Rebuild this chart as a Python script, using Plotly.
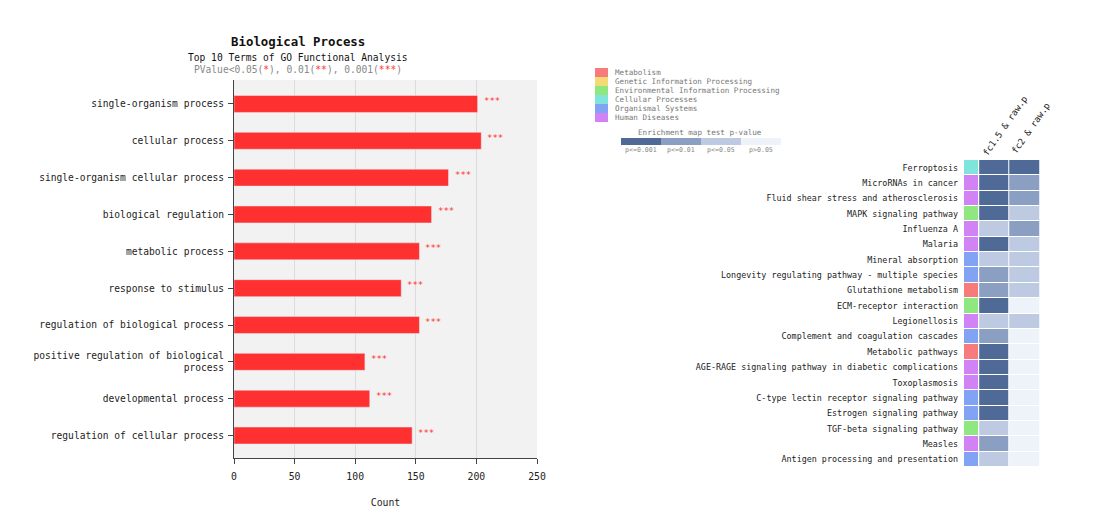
import plotly.graph_objects as go

# page body has an 8px margin, so the figure is drawn 8px smaller and offset
W, H = 1109, 518
OFF = 8
FW, FH = W - OFF, H - OFF

# ---- bar chart data (GO BP top 10) ----
go_terms = ["single-organism process", "cellular process", "single-organism cellular process",
            "biological regulation", "metabolic process", "response to stimulus",
            "regulation of biological process", "positive regulation of biological<br>process",
            "developmental process", "regulation of cellular process"]
go_counts = [201, 204, 177, 163, 153, 138, 153, 108, 112, 147]
go_stars = ["***"] * 10

# ---- KEGG enrichment heatmap data ----
pathways = ["Ferroptosis", "MicroRNAs in cancer", "Fluid shear stress and atherosclerosis",
            "MAPK signaling pathway", "Influenza A", "Malaria", "Mineral absorption",
            "Longevity regulating pathway - multiple species", "Glutathione metabolism",
            "ECM-receptor interaction", "Legionellosis", "Complement and coagulation cascades",
            "Metabolic pathways", "AGE-RAGE signaling pathway in diabetic complications",
            "Toxoplasmosis", "C-type lectin receptor signaling pathway", "Estrogen signaling pathway",
            "TGF-beta signaling pathway", "Measles", "Antigen processing and presentation"]
# 0 Metabolism, 1 Genetic, 2 Environmental, 3 Cellular, 4 Organismal, 5 Human Diseases
pathway_class = [3, 5, 5, 2, 5, 5, 4, 4, 0, 2, 5, 4, 0, 5, 5, 4, 4, 2, 5, 4]
# 0 p<=0.001, 1 p<=0.01, 2 p<=0.05, 3 p>0.05
level_fc15 = [0, 0, 0, 0, 2, 0, 2, 1, 1, 0, 2, 1, 0, 0, 0, 0, 0, 2, 1, 2]
level_fc2 = [0, 1, 1, 2, 1, 2, 2, 2, 2, 3, 2, 3, 3, 3, 3, 3, 3, 3, 3, 3]
columns = ["fc1.5 & raw.p", "fc2 & raw.p"]

class_names = ["Metabolism", "Genetic Information Processing", "Environmental Information Processing",
               "Cellular Processes", "Organismal Systems", "Human Diseases"]
class_colors = ["#f87b7b", "#f4da72", "#8fe87f", "#7fe4dc", "#82a2f4", "#d182f4"]
level_names = ["p<=0.001", "p<=0.01", "p<=0.05", "p>0.05"]
level_colors = ["#4f6a96", "#8a9fc1", "#bdcae1", "#eef2f9"]

MONO = "DejaVu Sans Mono"


def px_x(p):
    return (p - OFF) / FW


def px_y(p):
    return 1 - (p - OFF) / FH


def discrete(colors):
    n = len(colors)
    cs = []
    for i, c in enumerate(colors):
        cs.append([i / n, c])
        cs.append([(i + 1) / n, c])
    return cs


def label(x, y, text, size, color, anchor="center", angle=0):
    fig.add_annotation(x=px_x(x), y=px_y(y), xref="paper", yref="paper", showarrow=False,
                       xanchor=anchor, yanchor="middle", text=text, textangle=angle,
                       font=dict(size=size, color=color))


fig = go.Figure()

fig.add_trace(go.Bar(x=go_counts, y=go_terms, orientation="h", marker_color="#ff3030",
                     width=0.46, xaxis="x", yaxis="y", showlegend=False))

for t, c, s in zip(go_terms, go_counts, go_stars):
    fig.add_annotation(x=c, y=t, xref="x", yref="y", text=s, showarrow=False,
                       xanchor="left", yanchor="middle", xshift=4, yshift=3,
                       font=dict(family=MONO, size=9, color="#ff3030"))

# class column
fig.add_trace(go.Heatmap(z=[[v] for v in pathway_class], x=[0, 0.5], y=pathways,
                         colorscale=discrete(class_colors), zmin=0, zmax=5,
                         showscale=False, xgap=1, ygap=1, xaxis="x2", yaxis="y2"))
# p-value columns
fig.add_trace(go.Heatmap(z=[[a, b] for a, b in zip(level_fc15, level_fc2)], x=[0.5, 1.5, 2.5],
                         y=pathways, colorscale=discrete(level_colors), zmin=0, zmax=3,
                         showscale=False, xgap=1, ygap=1, xaxis="x2", yaxis="y2"))

fig.update_layout(
    width=FW, height=FH, margin=dict(l=0, r=0, t=0, b=0, autoexpand=False),
    paper_bgcolor="white", plot_bgcolor="white",
    font=dict(family=MONO, size=9.6, color="#222"),
    xaxis=dict(domain=[px_x(234), px_x(537)], anchor="y", range=[0, 250], automargin=False,
               tickvals=[0, 50, 100, 150, 200, 250], showgrid=True, gridcolor="#dcdcdc",
               showline=True, linecolor="#444", ticks="outside", ticklen=5, tickcolor="#444",
               zeroline=False, tickfont=dict(size=9.8), ticklabelstandoff=4,
               title=dict(text="Count", font=dict(size=9.8), standoff=18)),
    yaxis=dict(domain=[px_y(458), px_y(80)], anchor="x", range=[9.61, -0.65], automargin=False,
               showline=True, linecolor="#444", ticks="outside", ticklen=5, tickcolor="#444",
               showgrid=False, tickfont=dict(size=9.6), ticklabelstandoff=2),
    xaxis2=dict(domain=[px_x(964), px_x(1040)], anchor="y2", range=[0, 2.5], automargin=False,
                showticklabels=False, showgrid=False, zeroline=False),
    yaxis2=dict(domain=[px_y(467), px_y(160)], anchor="x2", autorange="reversed", automargin=False,
                showgrid=False, zeroline=False, ticks="", tickfont=dict(size=8.4),
                ticklabelstandoff=5),
)

# gray panel behind bars
fig.add_shape(type="rect", xref="x domain", yref="y domain", x0=0, x1=1, y0=0, y1=1,
              fillcolor="#f2f2f2", line_width=0, layer="below")

# titles
label(298, 42, "<b>Biological Process</b>", 12.4, "#111")
label(298, 58, "Top 10 Terms of GO Functional Analysis", 9.6, "#111")
label(298, 69, ("PValue<0.05(<span style='color:#ff3030'>*</span>), "
                "0.01(<span style='color:#ff3030'>**</span>), "
                "0.001(<span style='color:#ff3030'>***</span>)"), 9.6, "#888")

# class legend
for i, (n, c) in enumerate(zip(class_names, class_colors)):
    y0 = 68 + i * 9
    fig.add_shape(type="rect", xref="paper", yref="paper", x0=px_x(595), x1=px_x(608),
                  y0=px_y(y0), y1=px_y(y0 + 9), fillcolor=c, line_width=0)
    label(613, y0 + 4.5, n, 7.6, "#777", anchor="left")

# p-value scale
label(700, 132, "Enrichment map test p-value", 7.6, "#777")
for i, (n, c) in enumerate(zip(level_names, level_colors)):
    x0 = 621 + i * 40
    fig.add_shape(type="rect", xref="paper", yref="paper", x0=px_x(x0), x1=px_x(x0 + 40),
                  y0=px_y(138), y1=px_y(145), fillcolor=c, line_width=0)
    label(x0 + 20, 150, n, 6.6, "#888")

# column headers
label(1005, 126, columns[0], 9, "#222", angle=-55)
label(1031, 128, columns[1], 9, "#222", angle=-55)

fig.write_html("out.html")
